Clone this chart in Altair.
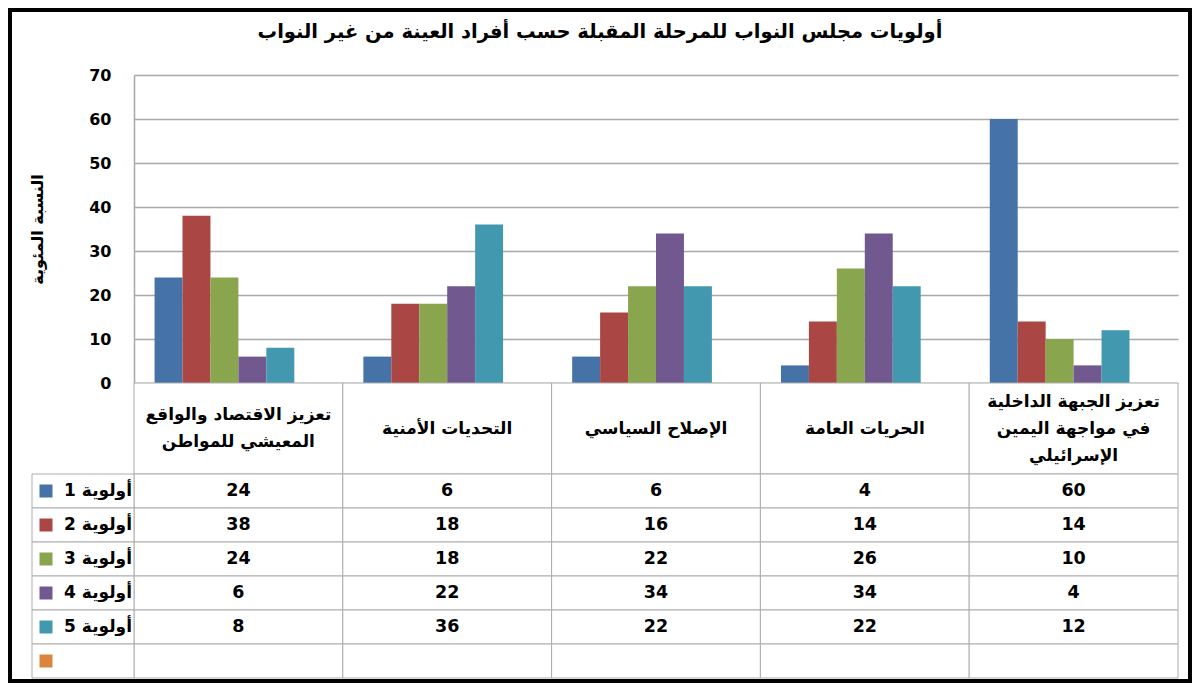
import altair as alt
import pandas as pd

# ---------------- data ----------------
title_text = "أولويات مجلس النواب للمرحلة المقبلة حسب أفراد العينة من غير النواب"
y_title = "النسبة المئوية"
categories = [
    "تعزيز الاقتصاد والواقع المعيشي للمواطن",
    "التحديات الأمنية",
    "الإصلاح السياسي",
    "الحريات العامة",
    "تعزيز الجبهة الداخلية في مواجهة اليمين الإسرائيلي",
]
category_lines = [
    "تعزيز الاقتصاد والواقع\nالمعيشي للمواطن",
    "التحديات الأمنية",
    "الإصلاح السياسي",
    "الحريات العامة",
    "تعزيز الجبهة الداخلية\nفي مواجهة اليمين\nالإسرائيلي",
]
series_names = ["أولوية 1", "أولوية 2", "أولوية 3", "أولوية 4", "أولوية 5", ""]
series_colors = ["#4572A7", "#AA4643", "#89A54E", "#71588F", "#4198AF", "#DB843D"]
priority_1 = [24, 6, 6, 4, 60]
priority_2 = [38, 18, 16, 14, 14]
priority_3 = [24, 18, 22, 26, 10]
priority_4 = [6, 22, 34, 34, 4]
priority_5 = [8, 36, 22, 22, 12]
y_ticks = [0, 10, 20, 30, 40, 50, 60, 70]

series_values = [priority_1, priority_2, priority_3, priority_4, priority_5]
ranks = list(range(1, len(series_names) + 1))

bars_df = pd.DataFrame(
    [
        {"cat": c, "rank": i + 1, "value": v}
        for i, vals in enumerate(series_values)
        for c, v in zip(categories, vals)
    ]
)
cells_df = pd.DataFrame([{"cat": c, "rank": r} for c in categories for r in ranks])
header_df = pd.DataFrame({"cat": categories, "label": category_lines})
legend_df = pd.DataFrame(
    {"rank": ranks, "label": ["\u202b" + s + "\u202c" if s else "" for s in series_names]}
)

# ---------------- style ----------------
FONT = "DejaVu Sans"
GRID = "#A8A8A8"
LINE = "#ADADAD"
W, H = 1180, 671
PLOT_X = [124, 1168]
PLOT_Y = [373, 65]
HEAD_Y = [373, 464]
ROWS_Y = [464, 668]
LEG_X = [22, 124]
HEAD_LH = 27

color_scale = alt.Scale(domain=ranks, range=series_colors)

# bars
bars = alt.Chart(bars_df).mark_bar().encode(
    x=alt.X(
        "cat:N",
        sort=categories,
        scale=alt.Scale(domain=categories, range=PLOT_X, paddingInner=0.197, paddingOuter=0.0985),
        axis=None,
    ),
    xOffset=alt.XOffset("rank:O", scale=alt.Scale(domain=ranks, paddingInner=0, paddingOuter=0)),
    y=alt.Y(
        "value:Q",
        scale=alt.Scale(domain=[0, 70], range=PLOT_Y, nice=False, zero=True),
        axis=alt.Axis(
            values=y_ticks,
            title=y_title,
            orient="left",
            offset=-PLOT_X[0],
            grid=True,
            gridColor=GRID,
            gridWidth=1.5,
            domain=True,
            domainColor=GRID,
            domainWidth=1.5,
            ticks=False,
            tickSize=0,
            labelPadding=23,
            labelFont=FONT,
            labelFontSize=16,
            labelFontWeight="bold",
            labelColor="black",
            titleFont=FONT,
            titleFontSize=16,
            titleFontWeight="bold",
            titleColor="black",
            titleX=-97,
            titleBaseline="middle",
            titleAngle=270,
        ),
    ),
    color=alt.Color("rank:O", scale=color_scale, legend=None),
)

# header row (category labels)
hx = alt.Scale(domain=categories, range=PLOT_X, paddingInner=0, paddingOuter=0)
hy = alt.Scale(domain=[0, 1], range=HEAD_Y)
header_cells = alt.Chart(header_df).mark_rect(fill="white", stroke=LINE, strokeWidth=1).encode(
    x=alt.X("cat:N", sort=categories, scale=hx, axis=None),
    y=alt.YDatum(0, type="quantitative", scale=hy, axis=None),
    y2=alt.Y2Datum(1),
)
header_text = (
    alt.Chart(header_df)
    .transform_calculate(
        ypos=f"0.5 - (length(split(datum.label, '\\n')) - 1) * {HEAD_LH / 2} / {HEAD_Y[1] - HEAD_Y[0]}"
    )
    .mark_text(
        font=FONT, fontSize=17, fontWeight="bold", color="black",
        lineBreak="\n", lineHeight=HEAD_LH, baseline="middle", align="center",
    )
    .encode(
        x=alt.X("cat:N", sort=categories, scale=hx, axis=None),
        y=alt.Y("ypos:Q", scale=hy, axis=None),
        text="label:N",
    )
)
header = alt.layer(header_cells, header_text)

# data table
tx = alt.Scale(domain=categories, range=PLOT_X, paddingInner=0, paddingOuter=0)
ty = alt.Scale(domain=ranks, range=ROWS_Y, paddingInner=0, paddingOuter=0)
table_cells = alt.Chart(cells_df).mark_rect(fill="white", stroke=LINE, strokeWidth=1).encode(
    x=alt.X("cat:N", sort=categories, scale=tx, axis=None),
    y=alt.Y("rank:O", scale=ty, axis=None),
)
table_text = alt.Chart(bars_df).mark_text(
    font=FONT, fontSize=17.5, fontWeight="bold", color="black", baseline="middle", align="center",
).encode(
    x=alt.X("cat:N", sort=categories, scale=tx, axis=None),
    y=alt.Y("rank:O", scale=ty, axis=None),
    text=alt.Text("value:Q", format="d"),
)
table = alt.layer(table_cells, table_text)

# legend keys column
lx = alt.Scale(domain=[0, 1], range=LEG_X)
legend_cells = alt.Chart(legend_df).mark_rect(fill="white", stroke=LINE, strokeWidth=1).encode(
    x=alt.XDatum(0, type="quantitative", scale=lx, axis=None),
    x2=alt.X2Datum(1),
    y=alt.Y("rank:O", scale=ty, axis=None),
)
legend_keys = alt.Chart(legend_df).mark_square(size=169, opacity=1).encode(
    x=alt.value(36),
    y=alt.Y("rank:O", scale=ty, axis=None),
    color=alt.Color("rank:O", scale=color_scale, legend=None),
)
legend_labels = alt.Chart(legend_df).mark_text(
    font=FONT, fontSize=17, fontWeight="bold", color="black", align="right", baseline="middle",
).encode(
    x=alt.value(122),
    y=alt.Y("rank:O", scale=ty, axis=None),
    text="label:N",
)
legend = alt.layer(legend_cells, legend_keys, legend_labels)

# outer frame of the whole figure
fx = alt.Scale(domain=[0, 1], range=[0, W])
fy = alt.Scale(domain=[0, 1], range=[0, H])
frame = alt.Chart(header_df.head(1)).mark_rect(
    fillOpacity=0, stroke="black", strokeWidth=4
).encode(
    x=alt.XDatum(0, type="quantitative", scale=fx, axis=None),
    x2=alt.X2Datum(1),
    y=alt.YDatum(0, type="quantitative", scale=fy, axis=None),
    y2=alt.Y2Datum(1),
)

chart = (
    alt.layer(bars, header, table, legend, frame)
    .resolve_scale(x="independent", y="independent")
    .properties(
        width=W,
        height=H,
        padding=2,
        autosize=alt.AutoSizeParams(type="none"),
        title=alt.TitleParams(
            text=title_text,
            font=FONT,
            fontSize=19.5,
            fontWeight="bold",
            color="black",
            anchor="middle",
            offset=-43,
            baseline="middle",
        ),
    )
    .configure_view(stroke="black", strokeWidth=4)
    .configure(background="white")
)

chart.save("out.html", embed_options={"renderer": "svg", "actions": False})
